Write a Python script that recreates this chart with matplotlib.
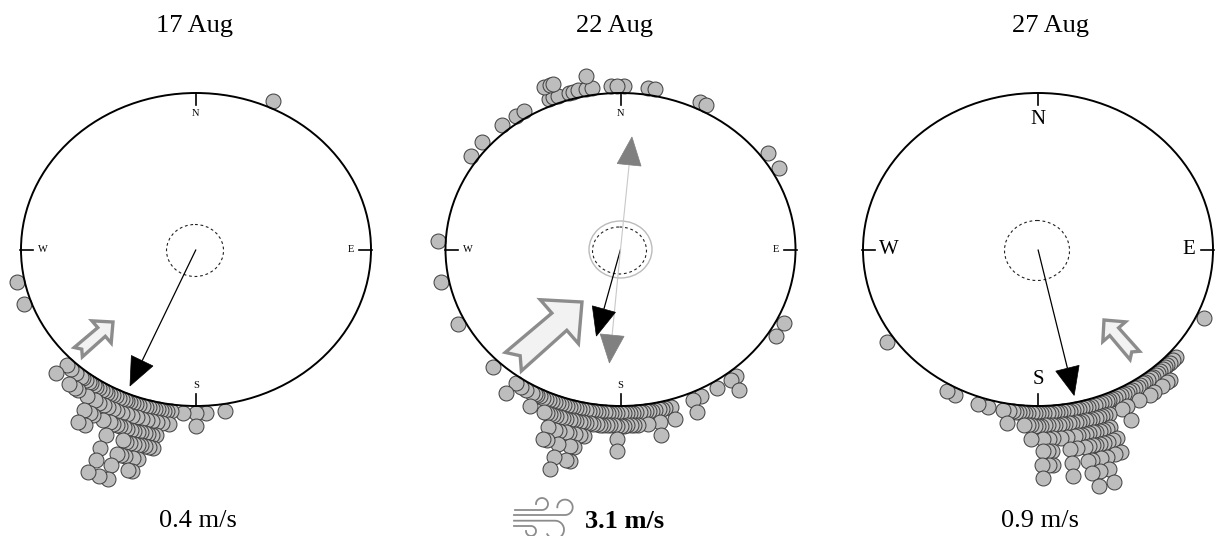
# -*- coding: utf-8 -*-
"""
Circular dot plots of orientation for three dates, with mean vectors and wind.
"""
import numpy as np
import matplotlib
matplotlib.use('Agg')
import matplotlib.pyplot as plt
from matplotlib.patches import Ellipse, Polygon

# Azimuths in degrees clockwise from north, one list per stacking ring
rings_17 = [
    [25, 171, 177, 180, 184, 188, 189, 190, 191, 192, 193, 194, 195, 196, 197, 198, 199, 200, 201, 202,
     203, 204, 205, 206, 207, 208, 209, 210, 211, 212, 213, 214, 215, 216, 217, 218, 219, 221, 223, 225,
     250.5, 258.5],
    [180, 188, 190, 191.5, 193, 194.5, 196, 197.5, 199, 200.5, 202, 203.5, 205, 206.5, 208, 209.5, 211,
     213.5, 217, 218, 220, 225.5],
    [191, 192, 193, 194, 195, 196, 197, 198, 199, 200, 201, 202, 203, 204, 206, 209, 210, 212],
    [191, 192, 193, 194, 195, 196, 197, 198, 199, 203.5, 209.5, 211.5],
    [194, 195, 197, 198, 199, 203.5],
    [194.5, 195.5, 199.5, 203],
    [199, 201, 203.5],
]
rings_22 = [
    [1, 8.7, 11, 25.7, 28, 54, 60, 116.8, 122, 140.8, 143, 148, 154, 156.8, 164, 166, 167, 168, 169, 170,
     171, 172, 173, 174, 175, 176, 177, 178, 179, 180, 181, 182, 183, 184, 185, 186, 187, 188, 189, 190,
     191, 192, 193, 194, 195, 196, 197, 198, 199, 200, 201, 202, 203, 204, 205, 206, 207, 208, 209, 211,
     213, 215, 224, 243, 258.5, 273, 305, 311, 319.8, 325, 328, 337, 338.5, 340, 343.6, 345, 346.5, 349,
     351, 357, 358.8],
    [143, 157, 164, 168.5, 172, 175, 176, 177, 178, 179, 180, 181, 182, 183, 184, 185, 186, 187, 188, 189,
     190, 191, 192, 193, 194, 195, 196, 197, 198, 199, 200, 201, 202, 203, 207.5, 215.5, 337, 339, 340,
     350],
    [169, 181, 190, 191, 192.5, 194, 195, 197, 198, 200],
    [181, 192, 193, 196, 199, 200],
    [192, 193, 196],
    [196],
]
rings_27 = [
    [114.9, 131, 132.5, 134, 135, 136, 137, 138, 139, 140, 141, 142, 143, 144, 145, 146, 147, 148, 149,
     150, 151, 152, 153, 154, 155, 156, 157, 158, 159, 160, 161, 162, 163, 164, 165, 166, 167, 168, 169,
     170, 171, 172, 173, 174, 175, 176, 177, 178, 179, 180, 181, 182, 183, 184, 185, 186, 187, 188, 189,
     191, 196, 199, 207, 210, 235.4],
    [137.7, 139, 141, 144, 145.5, 149, 153, 154.8, 159, 160, 161, 162, 163, 164, 165, 166, 167, 168, 169,
     170, 171, 172, 173, 174, 175, 176, 177, 178, 179, 180, 181, 182, 183, 184, 189],
    [154, 160, 161, 162, 163, 164, 165, 166, 167, 168, 169, 170, 172, 173.8, 176, 177, 178.6, 182],
    [159.4, 160.5, 162, 163, 164, 165, 166, 167, 168, 170, 171.8, 176.5, 177.5, 178.7],
    [160, 161.5, 163.5, 165, 167, 168, 171.9, 176.5, 177.5, 179],
    [163.8, 166, 167.7, 172.1, 178.9],
    [163.8, 167],
]
dates = ['17 Aug', '22 Aug', '27 Aug']
speeds = ['0.4 m/s', '3.1 m/s', '0.9 m/s']

# Mean vectors: azimuth and length as a fraction of the circle radius
mean_dir = [203.4, 194, 167.5]
mean_len = [0.95, 0.57, 0.955]
# Second (axial) vectors only exist for 22 Aug
axial_dir = [5.2, 185]
axial_len = [0.722, 0.728]
# Wind arrows: azimuth they point to
wind_dir = [49, 49, 319]

# Layout in pixels
centers = [196, 620.5, 1038]
cy = 249.5
rx, ry = 175, 156.5
ring_r = [1.045, 1.125, 1.21, 1.29, 1.38, 1.46, 1.55]
crit_w = [57, 54, 65]
crit_h = [52, 47, 60]
wind_tip = [(113, 322), (582, 302), (1104, 320)]
wind_size = [46, 91, 47]
title_x = [195, 615, 1051]
speed_x = [198, 625, 1040]
label_size = [7.5, 7.5, 15]
label_off = [(20, 20), (20, 20), (24, 26)]

serif = 'Liberation Serif'


def to_xy(cx, azimuth, r):
    a = np.radians(azimuth)
    return cx + r * rx * np.sin(a), cy - r * ry * np.cos(a)


def triangle(ax, cx, azimuth, r, color, line_color, line_w=0.9):
    tip = np.array(to_xy(cx, azimuth, r))
    centre = np.array([cx, cy])
    d = (tip - centre) / np.linalg.norm(tip - centre)
    n = np.array([-d[1], d[0]])
    base = tip - 28 * d
    ax.add_patch(Polygon([tip, base + 12 * n, base - 12 * n], closed=True, fc=color, ec=color, lw=0.5, zorder=6))
    ax.plot([cx, base[0]], [cy, base[1]], color=line_color, lw=line_w, zorder=5, solid_capstyle='butt')


def wind_arrow(ax, tip, azimuth, size):
    a = np.radians(azimuth)
    d = np.array([np.sin(a), -np.cos(a)])
    n = np.array([-d[1], d[0]])
    # shape as (distance back from tip, sideways), relative to arrow length
    shape = [(0, 0), (0.33, 0.32), (0.33, 0.125), (1, 0.135), (0.9, 0),
             (1, -0.135), (0.33, -0.125), (0.33, -0.32)]
    pts = [np.array(tip) - u * size * d + v * size * n for u, v in shape]
    ax.add_patch(Polygon(pts, closed=True, fc='#f2f2f2', ec='#8c8c8c', lw=2.4, joinstyle='miter', zorder=4))


def curl(ax, x0, x1, y, r, start, stop):
    ang = np.radians(np.linspace(start, stop, 40))
    cyc = y - r * np.sin(np.radians(start))
    xs = np.r_[x0, x1 + r * np.cos(ang)]
    ys = np.r_[y, cyc + r * np.sin(ang)]
    ax.plot(xs, ys, color='#8c8c8c', lw=1.3, zorder=3)


fig = plt.figure(figsize=(12.16, 5.36), dpi=100)
ax = fig.add_axes([0, 0, 1, 1])
ax.set_xlim(0, 1216)
ax.set_ylim(536, 0)
ax.axis('off')

for i, rings in enumerate([rings_17, rings_22, rings_27]):
    cx = centers[i]
    for k, azimuths in enumerate(rings):
        x, y = to_xy(cx, np.array(azimuths, dtype=float), ring_r[k])
        ax.scatter(x, y, s=116, c='#bdbdbd', edgecolors='#3c3c3c', linewidths=0.7, zorder=2 + k * 0.01, clip_on=False)

    ax.add_patch(Ellipse((cx, cy), 2 * rx, 2 * ry, fc='none', ec='black', lw=1.4, zorder=3))
    ax.add_patch(Ellipse((cx - 1, cy + 1), crit_w[i], crit_h[i], fc='none', ec='#222222', lw=0.8, ls=(0, (2.5, 2.5)), zorder=3))

    # compass ticks and letters
    offx, offy = label_off[i]
    ax.plot([cx, cx], [cy - ry, cy - ry + 12], color='black', lw=1.2, zorder=3)
    ax.plot([cx, cx], [cy + ry - 12, cy + ry], color='black', lw=1.2, zorder=3)
    ax.plot([cx - rx - 1, cx - rx + 12], [cy, cy], color='black', lw=1.2, zorder=3)
    ax.plot([cx + rx - 12, cx + rx + 1], [cy, cy], color='black', lw=1.2, zorder=3)
    ax.text(cx, cy - ry + offy, 'N', family=serif, fontsize=label_size[i], ha='center', va='center')
    ax.text(cx, cy + ry - offy - 1, 'S', family=serif, fontsize=label_size[i], ha='center', va='center')
    ax.text(cx - rx + offx + 2, cy, 'W', family=serif, fontsize=label_size[i], ha='center', va='center')
    ax.text(cx + rx - offx, cy, 'E', family=serif, fontsize=label_size[i], ha='center', va='center')

    wind_arrow(ax, wind_tip[i], wind_dir[i], wind_size[i])
    triangle(ax, cx, mean_dir[i], mean_len[i], 'black', 'black')

    ax.text(title_x[i], 26, dates[i], family=serif, fontsize=19, ha='center', va='center')
    ax.text(speed_x[i], 521, speeds[i], family=serif, fontsize=19, ha='center', va='center',
            fontweight='bold' if i == 1 else 'normal')

# 22 Aug extras: axial vectors and their critical circle
cx = centers[1]
ax.add_patch(Ellipse((cx, cy), 63, 57, fc='none', ec='#bbbbbb', lw=1.0, zorder=3))
for d, r in zip(axial_dir, axial_len):
    triangle(ax, cx, d, r, '#808080', '#c8c8c8', 0.8)

# wind glyph next to the 3.1 m/s label
curl(ax, 515, 542, 510, 6, 90, -180)
curl(ax, 514, 565, 515, 7.7, 90, -180)
curl(ax, 514, 555, 520.7, 9, -90, 150)
curl(ax, 514, 531, 526, 5, -90, 180)

fig.savefig('out.png', dpi=100)
